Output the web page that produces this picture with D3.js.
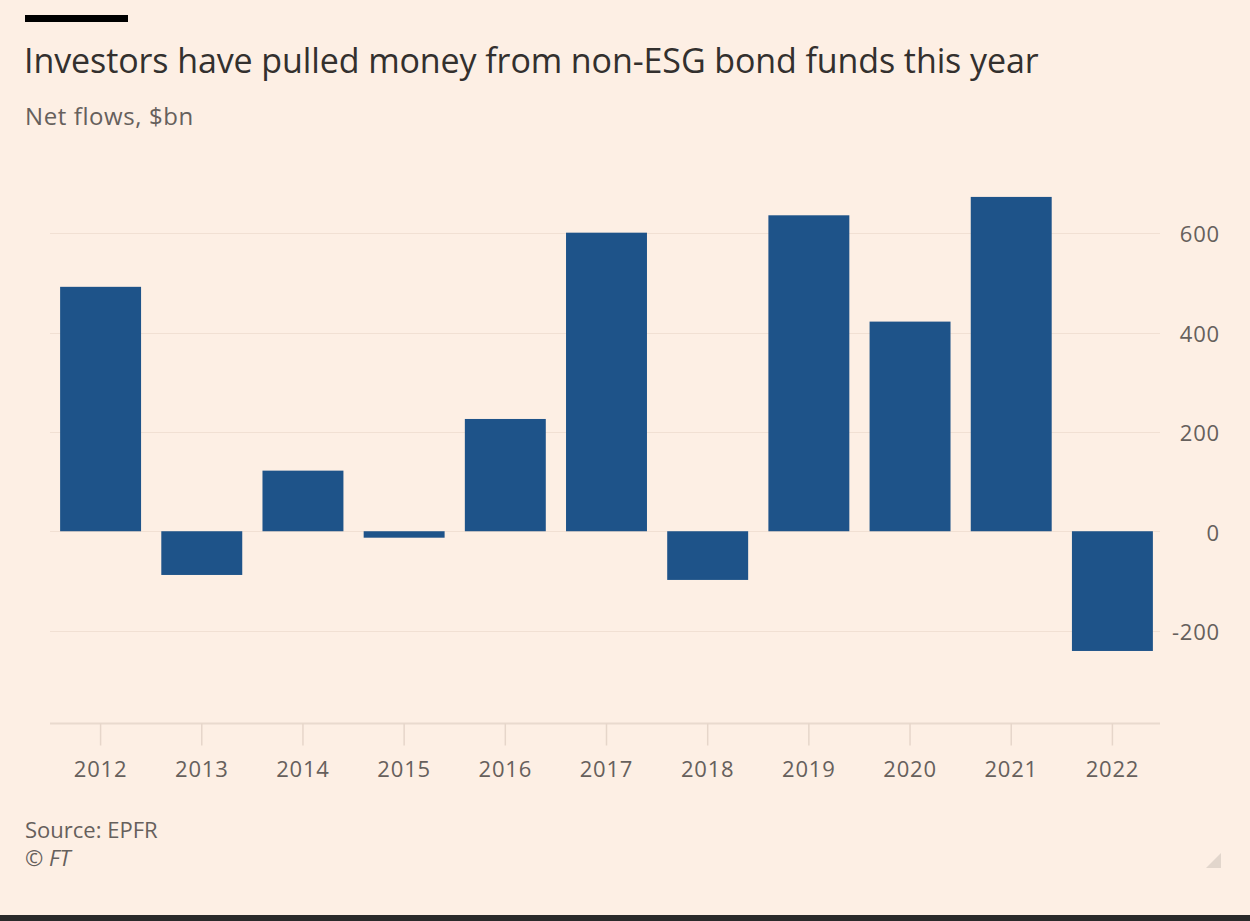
<!DOCTYPE html>
<html>
<head>
<meta charset="utf-8">
<script src="https://cdn.jsdelivr.net/npm/d3@7/dist/d3.min.js"></script>
<style>
  html, body { margin: 0; padding: 0; background: #fdefe4; }
  svg { display: block; }
  text { font-family: "Open Sans", "Noto Sans", sans-serif; }
</style>
</head>
<body>
<svg id="chart" width="1250" height="921"></svg>
<script>
// Net flows into non-ESG bond funds, $bn
const years = ["2012", "2013", "2014", "2015", "2016", "2017", "2018", "2019", "2020", "2021", "2022"];
const netFlows = [492, -88, 122, -13, 226, 601, -98, 636, 422, 673, -241];
const yTicks = [-200, 0, 200, 400, 600];

const title = "Investors have pulled money from non-ESG bond funds this year";
const subtitle = "Net flows, $bn";
const source = "Source: EPFR";
const credit = "© FT";

const W = 1250, H = 921;
const svg = d3.select("#chart");

svg.append("rect").attr("width", W).attr("height", H).attr("fill", "#fdefe4");

// Header
svg.append("rect").attr("x", 25).attr("y", 15).attr("width", 103).attr("height", 7).attr("fill", "#000");
svg.append("text").attr("x", 24).attr("y", 73)
  .attr("font-size", 34).attr("letter-spacing", -0.1).attr("fill", "#33302e").text(title);
svg.append("text").attr("x", 25).attr("y", 125)
  .attr("font-size", 24).attr("letter-spacing", 0.6).attr("fill", "#66605c").text(subtitle);

// Scales
const x = d3.scaleBand().domain(years).range([50, 1163]).paddingInner(0.2).paddingOuter(0.1);
const y = d3.scaleLinear().domain([-385, 700]).range([722.5, 183.5]);

const plotLeft = 50, plotRight = 1160;

// Gridlines
svg.append("g").selectAll("line").data(yTicks).join("line")
  .attr("x1", plotLeft).attr("x2", plotRight)
  .attr("y1", d => Math.round(y(d)) + 0.5).attr("y2", d => Math.round(y(d)) + 0.5)
  .attr("stroke", "#f1e0d3").attr("stroke-width", 1.2);

// Right-hand value axis labels
const yAxis = d3.axisRight(y).tickValues(yTicks).tickSize(0).tickPadding(0)
  .tickFormat(d => String(d));
const gy = svg.append("g").attr("transform", "translate(1220,0)").call(yAxis);
gy.select(".domain").remove();
gy.selectAll("text").attr("text-anchor", "end").attr("font-size", 22)
  .attr("letter-spacing", 0.8)
  .attr("fill", "#66605c").attr("font-family", "'Open Sans', sans-serif")
  .attr("dy", "0.4em");

// Bars
svg.append("g").selectAll("rect").data(years).join("rect")
  .attr("x", d => x(d))
  .attr("width", x.bandwidth())
  .attr("y", (d, i) => y(Math.max(0, netFlows[i])))
  .attr("height", (d, i) => Math.abs(y(netFlows[i]) - y(0)))
  .attr("fill", "#1e5389");

// Category axis along the bottom
const xAxis = d3.axisBottom(x).tickSize(22).tickPadding(16).tickSizeOuter(0);
const gx = svg.append("g").attr("transform", `translate(0,${Math.round(y(-385)) + 0.5})`).call(xAxis);
gx.select(".domain").attr("d", `M${plotLeft},0H${plotRight}`).attr("stroke", "#e9dace").attr("stroke-width", 2);
gx.selectAll(".tick line").attr("stroke", "#e6d6ca").attr("stroke-width", 1.5);
gx.selectAll(".tick text").attr("font-size", 22).attr("letter-spacing", 0.8).attr("fill", "#66605c")
  .attr("font-family", "'Open Sans', sans-serif");

// Footer
svg.append("text").attr("x", 25).attr("y", 838)
  .attr("font-size", 22).attr("fill", "#66605c").text(source);
svg.append("text").attr("x", 25).attr("y", 866)
  .attr("font-size", 22).attr("font-style", "italic").attr("fill", "#66605c").text(credit);

// Resize grip in the corner
svg.append("path").attr("d", "M1221,853 L1221,868 L1206,868 Z").attr("fill", "#e2d6cc");

// Bottom edge band
svg.append("rect").attr("x", 0).attr("y", 915).attr("width", W).attr("height", 6).attr("fill", "#2a2a2a");
</script>
</body>
</html>
